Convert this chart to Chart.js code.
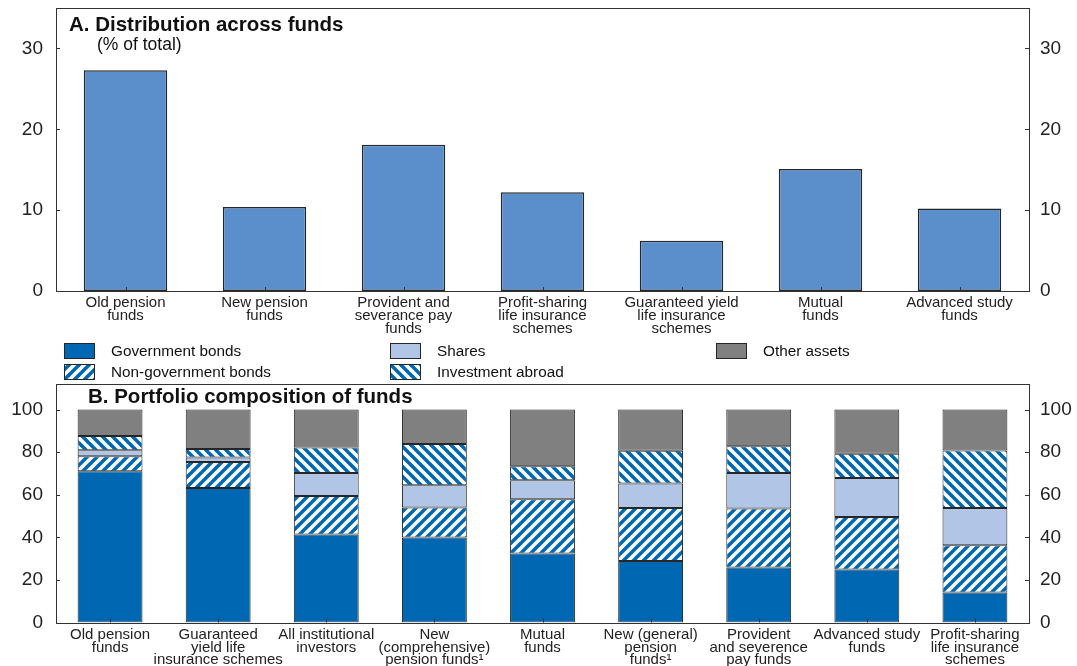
<!DOCTYPE html>
<html>
<head>
<meta charset="utf-8">
<script src="https://cdn.jsdelivr.net/npm/chart.js@4.4.0/dist/chart.umd.min.js"></script>
<style>
  html, body { margin: 0; padding: 0; background: #fff; }
  #wrap { position: relative; width: 1077px; height: 666px; overflow: hidden; }
  canvas { position: absolute; left: 0; }
  #topChart { top: 0; }
  #bottomChart { top: 334px; }
</style>
</head>
<body>
<div id="wrap">
  <canvas id="topChart" width="1077" height="334"></canvas>
  <canvas id="bottomChart" width="1077" height="332"></canvas>
</div>
<script>
// panel A data
const fundsA = [
  ['Old pension', 'funds'],
  ['New pension', 'funds'],
  ['Provident and', 'severance pay', 'funds'],
  ['Profit-sharing', 'life insurance', 'schemes'],
  ['Guaranteed yield', 'life insurance', 'schemes'],
  ['Mutual', 'funds'],
  ['Advanced study', 'funds']
];
const shareOfTotal = [27.3, 10.4, 18.1, 12.2, 6.2, 15.1, 10.2];
const ticksA = [0, 10, 20, 30];

// panel B data
const fundsB = [
  ['Old pension', 'funds'],
  ['Guaranteed', 'yield life', 'insurance schemes'],
  ['All institutional', 'investors'],
  ['New', '(comprehensive)', 'pension funds\u00b9'],
  ['Mutual', 'funds'],
  ['New (general)', 'pension', 'funds\u00b9'],
  ['Provident', 'and severence', 'pay funds'],
  ['Advanced study', 'funds'],
  ['Profit-sharing', 'life insurance', 'schemes']
];
const govBonds    = [71.0, 63.2, 41.3, 39.9, 32.4, 28.9, 25.8, 24.9, 14.1];
const nonGovBonds = [7.1, 12.2, 18.1, 14.1, 25.5, 24.9, 27.7, 24.7, 22.2];
const shares      = [2.8, 2.1, 10.8, 10.5, 8.9, 11.5, 16.7, 18.3, 17.5];
const abroad      = [6.7, 4.0, 12.0, 19.3, 6.6, 15.3, 12.6, 11.4, 27.0];
const otherAssets = [12.4, 18.5, 17.8, 16.2, 26.6, 19.4, 17.2, 20.7, 19.2];
const ticksB = [0, 20, 40, 60, 80, 100];

const FONT = '"Liberation Sans", Arial, Helvetica, sans-serif';
const BLUE = '#0068b3';
const EDGE = '#262626';

function stripes(dir) {
  const s = 10;
  const c = document.createElement('canvas');
  c.width = s; c.height = s;
  const g = c.getContext('2d');
  g.fillStyle = '#fff';
  g.fillRect(0, 0, s, s);
  g.strokeStyle = BLUE;
  g.lineWidth = 3.6;
  for (let k = -s; k <= s; k += s) {
    g.beginPath();
    if (dir > 0) { g.moveTo(k - 2, s + 2); g.lineTo(k + s + 2, -2); }
    else { g.moveTo(k - 2, -2); g.lineTo(k + s + 2, s + 2); }
    g.stroke();
  }
  return g.createPattern(c, 'repeat');
}

// frame + inward tick marks + panel titles
function framePlugin(titles) {
  return {
    id: 'frame',
    afterDraw(chart) {
      const { ctx, chartArea: a, scales } = chart;
      ctx.save();
      ctx.strokeStyle = '#333';
      ctx.lineWidth = 1;
      ctx.strokeRect(Math.round(a.left) + 0.5, Math.round(a.top) + 0.5,
        Math.round(a.right - a.left), Math.round(a.bottom - a.top));
      ctx.beginPath();
      scales.y.ticks.forEach(t => {
        const py = Math.round(scales.y.getPixelForValue(t.value)) + 0.5;
        ctx.moveTo(a.left, py); ctx.lineTo(a.left + 4, py);
        ctx.moveTo(a.right - 4, py); ctx.lineTo(a.right, py);
      });
      scales.x.ticks.forEach((t, i) => {
        const px = Math.round(scales.x.getPixelForTick(i)) + 0.5;
        ctx.moveTo(px, a.bottom); ctx.lineTo(px, a.bottom - 4);
      });
      ctx.stroke();
      ctx.fillStyle = '#111';
      titles.forEach(t => {
        ctx.font = t.font;
        ctx.fillText(t.text, t.x, t.y);
      });
      ctx.restore();
    }
  };
}

function yAxis(pos, max, tickVals, width, pad) {
  return {
    position: pos,
    min: 0,
    max: max,
    grid: { display: false, drawTicks: false },
    border: { display: false },
    afterBuildTicks: s => { s.ticks = tickVals.map(v => ({ value: v })); },
    afterFit: s => { s.width = width; s.paddingTop = 0; s.paddingBottom = 0; },
    ticks: { padding: pad, color: '#222', font: { family: FONT, size: 19 } }
  };
}

function xAxis(height, stacked) {
  return {
    stacked: stacked,
    grid: { display: false, drawTicks: false },
    border: { display: false },
    afterFit: s => { s.height = height; },
    ticks: {
      autoSkip: false, maxRotation: 0, minRotation: 0, padding: 6,
      color: '#222', font: { family: FONT, size: 15, lineHeight: '12.7px' }
    }
  };
}

// panel A
new Chart(document.getElementById('topChart'), {
  type: 'bar',
  data: {
    labels: fundsA,
    datasets: [{
      label: 'Share of total',
      data: shareOfTotal,
      backgroundColor: '#5b8fcc',
      borderColor: EDGE,
      borderWidth: 1.5,
      borderSkipped: false,
      barPercentage: 0.6,
      categoryPercentage: 1
    }]
  },
  options: {
    responsive: false,
    animation: false,
    layout: { padding: { top: 8, left: 0, right: 0, bottom: 0 } },
    plugins: { legend: { display: false }, tooltip: { enabled: false } },
    scales: {
      x: xAxis(43, false),
      y: yAxis('left', 35, ticksA, 56, 13),
      y2: yAxis('right', 35, ticksA, 48, 11)
    }
  },
  plugins: [framePlugin([
    { text: 'A. Distribution across funds', x: 69, y: 31, font: 'bold 20.5px ' + FONT },
    { text: '(% of total)', x: 97, y: 50, font: '17.5px ' + FONT }
  ])]
});

// legend for panel B, laid out in columns of two rows
const legendPlugin = {
  id: 'gridLegend',
  afterDraw(chart) {
    const { ctx } = chart;
    const cols = [64, 390, 716];
    const rows = [9, 30];
    ctx.save();
    ctx.font = '15.3px ' + FONT;
    ctx.textBaseline = 'middle';
    chart.data.datasets.forEach((ds, i) => {
      const x = cols[Math.floor(i / 2)];
      const y = rows[i % 2];
      ctx.fillStyle = ds.backgroundColor;
      ctx.fillRect(x, y, 31, 16);
      ctx.strokeStyle = EDGE;
      ctx.lineWidth = 1;
      ctx.strokeRect(x + 0.5, y + 0.5, 30, 15);
      ctx.fillStyle = '#111';
      ctx.fillText(ds.label, x + 47, y + 9);
    });
    ctx.restore();
  }
};

function layer(label, data, color) {
  return {
    label: label,
    data: data,
    backgroundColor: color,
    borderColor: EDGE,
    borderWidth: 1,
    borderSkipped: false,
    barPercentage: 0.6,
    categoryPercentage: 1
  };
}

// panel B
new Chart(document.getElementById('bottomChart'), {
  type: 'bar',
  data: {
    labels: fundsB,
    datasets: [
      layer('Government bonds', govBonds, BLUE),
      layer('Non-government bonds', nonGovBonds, stripes(1)),
      layer('Shares', shares, '#b1c5e6'),
      layer('Investment abroad', abroad, stripes(-1)),
      layer('Other assets', otherAssets, '#808080')
    ]
  },
  options: {
    responsive: false,
    animation: false,
    layout: { padding: { top: 50, left: 0, right: 0, bottom: 0 } },
    plugins: { legend: { display: false }, tooltip: { enabled: false } },
    scales: {
      x: xAxis(43.5, true),
      y: Object.assign(yAxis('left', 112, ticksB, 56, 13), { stacked: true }),
      y2: yAxis('right', 112, ticksB, 48, 11)
    }
  },
  plugins: [legendPlugin, framePlugin([
    { text: 'B. Portfolio composition of funds', x: 88, y: 69, font: 'bold 20.5px ' + FONT }
  ])]
});
</script>
</body>
</html>
